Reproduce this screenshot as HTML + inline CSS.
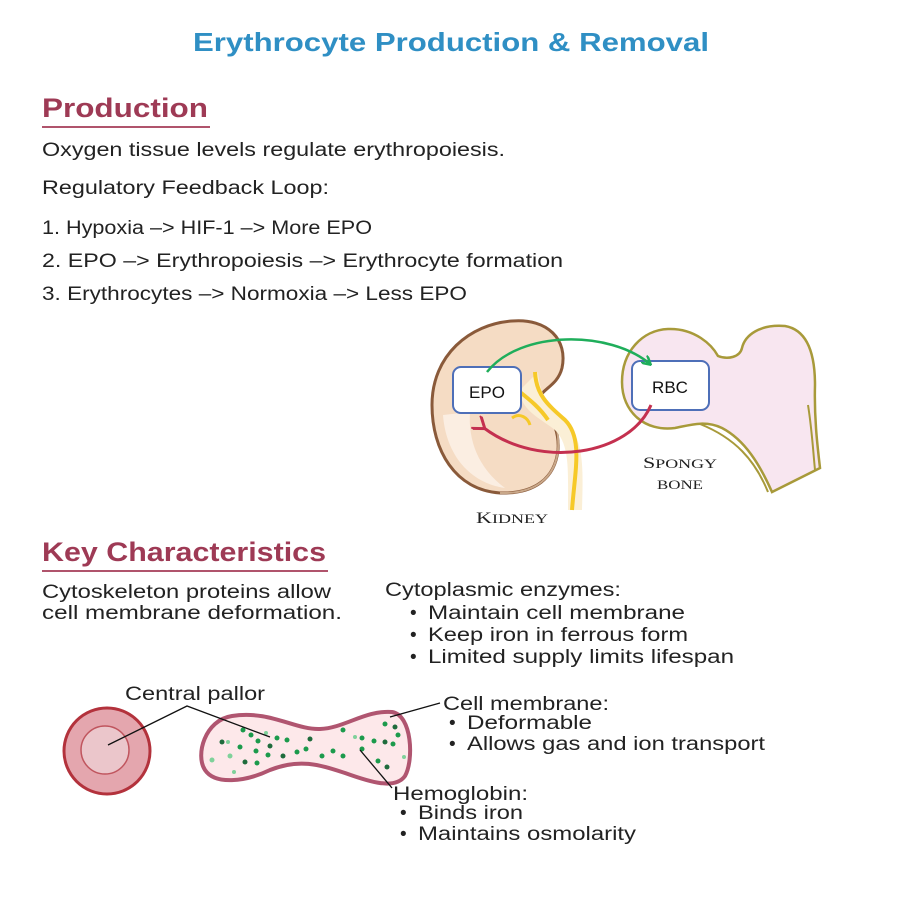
<!DOCTYPE html>
<html><head><meta charset="utf-8"><style>html,body{margin:0;padding:0;background:#fff}svg{display:block}</style></head><body>
<svg width="900" height="900" viewBox="0 0 900 900" xmlns="http://www.w3.org/2000/svg" font-family="'Liberation Sans', sans-serif">
<defs>
<marker id="ag" markerWidth="10" markerHeight="10" refX="8" refY="5" orient="auto" markerUnits="userSpaceOnUse"><path d="M0,0 L9,5 L0,10" fill="none" stroke="#1fae5b" stroke-width="2.5"/></marker>
<marker id="ar" markerWidth="14" markerHeight="16" refX="2" refY="8" orient="auto" markerUnits="userSpaceOnUse"><path d="M12,0 L1,8 L12,16" fill="none" stroke="#c4304f" stroke-width="3"/></marker>
</defs>
<text x="193" y="51" font-size="26" font-weight="bold" fill="#2f8fc4" textLength="516" lengthAdjust="spacingAndGlyphs">Erythrocyte Production &amp; Removal</text>

<text x="42" y="117" font-size="27" font-weight="bold" fill="#9e3a55" textLength="166" lengthAdjust="spacingAndGlyphs">Production</text>
<line x1="42" y1="127" x2="210" y2="127" stroke="#b0546c" stroke-width="2"/>
<g font-size="19" fill="#222">
<text x="42" y="156" textLength="463" lengthAdjust="spacingAndGlyphs">Oxygen tissue levels regulate erythropoiesis.</text>
<text x="42" y="194" textLength="287" lengthAdjust="spacingAndGlyphs">Regulatory Feedback Loop:</text>
<text x="42" y="234" textLength="330" lengthAdjust="spacingAndGlyphs">1. Hypoxia –&gt; HIF-1 –&gt; More EPO</text>
<text x="42" y="267" textLength="521" lengthAdjust="spacingAndGlyphs">2. EPO –&gt; Erythropoiesis –&gt; Erythrocyte formation</text>
<text x="42" y="300" textLength="425" lengthAdjust="spacingAndGlyphs">3. Erythrocytes –&gt; Normoxia –&gt; Less EPO</text>
</g>

<!-- Kidney -->
<path d="M512,321 C548,318 568,340 562,368 C558,384 545,388 540,396 C545,410 560,425 558,450 C555,478 535,494 500,493 C455,490 432,450 432,405 C432,355 470,324 512,321 Z" fill="#f5dcc4" stroke="#8a5a3a" stroke-width="3"/>
<path d="M540,396 C552,410 560,425 558,450 C555,478 535,494 500,493" fill="none" stroke="#c9a88a" stroke-width="2"/>
<path d="M443,415 C446,455 470,483 505,488 C478,468 468,440 470,412 Z" fill="#fbeee2"/>
<path d="M538,372 C540,395 548,405 565,420 C585,440 583,470 582,510 L568,510 C568,470 570,445 555,430 C540,418 520,410 520,390 Z" fill="#fbefd6"/>
<path d="M535,372 C536,395 548,405 565,420 C583,438 575,470 572,510" fill="none" stroke="#f6c928" stroke-width="4"/>
<path d="M520,392 C530,400 540,408 548,420" fill="none" stroke="#f6c928" stroke-width="4"/>
<path d="M512,418 C520,412 528,418 530,425" fill="none" stroke="#f6c928" stroke-width="3"/>
<!-- Bone -->
<path d="M668,329 C695,328 712,345 718,356 C728,360 740,357 742,348 C745,335 760,324 785,326 C808,330 815,355 815,385 C814,420 818,450 820,468 L772,492 C760,465 745,440 722,428 C705,420 690,425 675,428 C645,432 622,412 622,382 C622,352 642,330 668,329 Z" fill="#f8e6f0" stroke="#a89a3a" stroke-width="2.5"/>
<path d="M700,424 C735,438 755,460 768,492" fill="none" stroke="#a89a3a" stroke-width="2"/>
<path d="M808,405 C812,430 813,450 815,470" fill="none" stroke="#a89a3a" stroke-width="2"/>
<!-- boxes -->
<rect x="453" y="367" width="68" height="46" rx="8" fill="#fff" stroke="#4e6fb8" stroke-width="2"/>
<text x="487" y="398" font-size="17" text-anchor="middle" fill="#111">EPO</text>
<rect x="632" y="361" width="77" height="49" rx="8" fill="#fff" stroke="#4e6fb8" stroke-width="2"/>
<text x="670" y="393" font-size="17" text-anchor="middle" fill="#111">RBC</text>
<path d="M487,372 C520,330 610,330 650,364" fill="none" stroke="#1fae5b" stroke-width="2.5" marker-end="url(#ag)"/>
<path d="M651,405 C630,455 540,470 484,428" fill="none" stroke="#c4304f" stroke-width="3" marker-end="url(#ar)"/>
<g font-family="'Liberation Serif', serif" fill="#222">
<text x="643" y="468" font-size="16" textLength="74" lengthAdjust="spacingAndGlyphs">S<tspan font-size="13">PONGY</tspan></text>
<text x="657" y="489" font-size="13" textLength="46" lengthAdjust="spacingAndGlyphs">BONE</text>
<text x="476" y="523" font-size="16" textLength="72" lengthAdjust="spacingAndGlyphs">K<tspan font-size="13">IDNEY</tspan></text>
</g>

<text x="42" y="561" font-size="27" font-weight="bold" fill="#9e3a55" textLength="284" lengthAdjust="spacingAndGlyphs">Key Characteristics</text>
<line x1="42" y1="571" x2="328" y2="571" stroke="#b0546c" stroke-width="2"/>
<g font-size="19" fill="#222">
<text x="42" y="598" textLength="289" lengthAdjust="spacingAndGlyphs">Cytoskeleton proteins allow</text>
<text x="42" y="619" textLength="300" lengthAdjust="spacingAndGlyphs">cell membrane deformation.</text>
<text x="385" y="596" textLength="236" lengthAdjust="spacingAndGlyphs">Cytoplasmic enzymes:</text>
<text x="410" y="619">•</text><text x="428" y="619" textLength="257" lengthAdjust="spacingAndGlyphs">Maintain cell membrane</text>
<text x="410" y="641">•</text><text x="428" y="641" textLength="260" lengthAdjust="spacingAndGlyphs">Keep iron in ferrous form</text>
<text x="410" y="663">•</text><text x="428" y="663" textLength="306" lengthAdjust="spacingAndGlyphs">Limited supply limits lifespan</text>
<text x="125" y="700" textLength="140" lengthAdjust="spacingAndGlyphs">Central pallor</text>
<text x="443" y="710" textLength="166" lengthAdjust="spacingAndGlyphs">Cell membrane:</text>
<text x="449" y="729">•</text><text x="467" y="729" textLength="125" lengthAdjust="spacingAndGlyphs">Deformable</text>
<text x="449" y="750">•</text><text x="467" y="750" textLength="298" lengthAdjust="spacingAndGlyphs">Allows gas and ion transport</text>
<text x="393" y="800" textLength="135" lengthAdjust="spacingAndGlyphs">Hemoglobin:</text>
<text x="400" y="819">•</text><text x="418" y="819" textLength="105" lengthAdjust="spacingAndGlyphs">Binds iron</text>
<text x="400" y="840">•</text><text x="418" y="840" textLength="218" lengthAdjust="spacingAndGlyphs">Maintains osmolarity</text>
</g>

<!-- RBC circle -->
<circle cx="107" cy="751" r="43" fill="#e4a6ae" stroke="#b3323c" stroke-width="3"/>
<circle cx="105" cy="750" r="24" fill="#ebc6cb" stroke="#c0555e" stroke-width="1.5"/>
<!-- oblong cell -->
<path d="M232,716 C270,710 295,730 320,729 C345,728 365,710 392,712 C412,715 414,760 405,776 C395,790 370,782 345,773 C320,765 300,758 270,770 C245,782 215,785 205,770 C195,755 205,720 232,716 Z" fill="#fde8ea" stroke="#b05570" stroke-width="4"/>
<g fill="#1c9a4c">
<circle cx="243" cy="730" r="2.5"/><circle cx="251" cy="735" r="2.5"/><circle cx="258" cy="741" r="2.5"/><circle cx="277" cy="738" r="2.5"/><circle cx="287" cy="740" r="2.5"/><circle cx="240" cy="747" r="2.5"/><circle cx="256" cy="751" r="2.5"/><circle cx="268" cy="755" r="2.5"/><circle cx="297" cy="752" r="2.5"/><circle cx="306" cy="749" r="2.5"/><circle cx="322" cy="756" r="2.5"/><circle cx="333" cy="751" r="2.5"/><circle cx="343" cy="756" r="2.5"/><circle cx="343" cy="730" r="2.5"/><circle cx="362" cy="749" r="2.5"/><circle cx="374" cy="741" r="2.5"/><circle cx="385" cy="724" r="2.5"/><circle cx="393" cy="744" r="2.5"/><circle cx="378" cy="761" r="2.5"/><circle cx="398" cy="735" r="2.5"/><circle cx="257" cy="763" r="2.5"/><circle cx="362" cy="738" r="2.5"/>
</g>
<g fill="#1f6b3c"><circle cx="222" cy="742" r="2.5"/><circle cx="245" cy="762" r="2.5"/><circle cx="270" cy="746" r="2.5"/><circle cx="310" cy="739" r="2.5"/><circle cx="283" cy="756" r="2.5"/><circle cx="385" cy="742" r="2.5"/><circle cx="387" cy="767" r="2.5"/><circle cx="395" cy="727" r="2.5"/></g>
<g fill="#7fd19a"><circle cx="212" cy="760" r="2.5"/><circle cx="230" cy="756" r="2.5"/><circle cx="228" cy="742" r="2"/><circle cx="266" cy="733" r="2"/><circle cx="404" cy="757" r="2"/><circle cx="234" cy="772" r="2"/><circle cx="355" cy="737" r="2"/></g>
<g stroke="#111" stroke-width="1.3" fill="none">
<polyline points="108,745 187,706 270,737"/>
<line x1="390" y1="717" x2="440" y2="703"/>
<line x1="360" y1="750" x2="392" y2="788"/>
</g>
</svg>
</body></html>
